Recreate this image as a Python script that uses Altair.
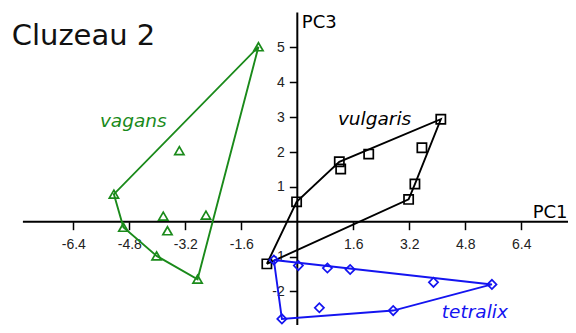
import altair as alt
import pandas as pd

# ---- data ----
species = ["vagans", "vulgaris", "tetralix"]

vagans_pc1 = [-1.11, -5.24, -4.97, -4.02, -2.85, -3.37, -3.83, -3.71, -2.61]
vagans_pc3 = [5.02, 0.79, -0.16, -0.98, -1.65, 2.04, 0.16, -0.26, 0.19]
vagans_hull = [0, 1, 2, 3, 4, 0]

vulgaris_pc1 = [4.10, 3.56, 3.36, 3.18, -0.87, -0.02, 1.20, 1.24, 2.04]
vulgaris_pc3 = [2.94, 2.12, 1.08, 0.64, -1.21, 0.57, 1.72, 1.51, 1.94]
vulgaris_hull = [4, 5, 6, 0, 2, 3, 4]

tetralix_pc1 = [-0.67, 0.03, 0.86, 1.51, 3.89, 5.56, 2.74, 0.63, -0.44]
tetralix_pc3 = [-1.10, -1.26, -1.33, -1.37, -1.74, -1.80, -2.55, -2.47, -2.79]
tetralix_hull = [0, 5, 6, 8, 0]

x_ticks = [-6.4, -4.8, -3.2, -1.6, 1.6, 3.2, 4.8, 6.4]
y_ticks = [-3, -2, -1, 1, 2, 3, 4, 5]
axis_pc1_extent = [-7.84, 7.84]
axis_pc3_extent = [-3, 6]

# annotation anchors (data units)
label_pc1 = [-5.64, 1.16, 4.13]
label_pc3 = [2.73, 2.77, -2.77]

colors = ["#1a8a1a", "#000000", "#1414f0"]
shapes = ["triangle-up", "square", "diamond"]

# ---- tables ----
series = {
    "vagans": (vagans_pc1, vagans_pc3, vagans_hull),
    "vulgaris": (vulgaris_pc1, vulgaris_pc3, vulgaris_hull),
    "tetralix": (tetralix_pc1, tetralix_pc3, tetralix_hull),
}
pts_rows, hull_rows = [], []
for sp, (xs_, ys_, hull) in series.items():
    for a, b in zip(xs_, ys_):
        pts_rows.append({"species": sp, "pc1": a, "pc3": b})
    for k, idx in enumerate(hull):
        hull_rows.append({"species": sp, "pc1": xs_[idx], "pc3": ys_[idx], "ord": k})
pts = pd.DataFrame(pts_rows)
hulls = pd.DataFrame(hull_rows)
labels = pd.DataFrame({"species": species, "pc1": label_pc1, "pc3": label_pc3})
xline = pd.DataFrame({"pc1": [axis_pc1_extent[0]], "pc1b": [axis_pc1_extent[1]], "pc3": [0]})
yline = pd.DataFrame({"pc1": [0], "pc3": [axis_pc3_extent[0]], "pc3b": [axis_pc3_extent[1]]})

# ---- layout ----
W, H = 560, 317
xdom = [-8.266, 7.734]
ydom = [-2.964, 6.132]
x0_px = W * (0 - xdom[0]) / (xdom[1] - xdom[0])
y0_px = H * (ydom[1] - 0) / (ydom[1] - ydom[0])

xs = alt.Scale(domain=xdom, nice=False, zero=False)
ys = alt.Scale(domain=ydom, nice=False, zero=False)
col = alt.Color("species:N", scale=alt.Scale(domain=species, range=colors), legend=None)
shp = alt.Shape("species:N", scale=alt.Scale(domain=species, range=shapes), legend=None)

common_axis = dict(
    domain=False, grid=False, ticks=True, tickSize=8, tickWidth=1.5, tickColor="black",
    labelFont="Liberation Sans", labelFontSize=14, labelColor="#222222",
    labelOverlap=False, labelFlush=False, labelBound=False,
    titleFont="DejaVu Sans", titleFontSize=18, titleFontWeight="normal", titleColor="black",
    titleAngle=0, titleBaseline="alphabetic", zindex=0,
)
x_axis = alt.Axis(
    values=x_ticks, offset=-(H - y0_px), labelPadding=8,
    labelExpr="datum.value < 0 ? '-' + format(-datum.value, '.1f') : format(datum.value, '.1f')",
    title="PC1", titleX=559, titleY=-4.7, titleAlign="right", **common_axis,
)
y_axis = alt.Axis(
    values=y_ticks, offset=-x0_px, labelPadding=5,
    labelExpr="datum.value < 0 ? '-' + format(-datum.value, 'd') : format(datum.value, 'd')",
    title="PC3", titleX=4, titleY=19.3, titleAlign="left", **common_axis,
)

X = lambda f: alt.X(f, scale=xs, axis=x_axis)
Y = lambda f: alt.Y(f, scale=ys, axis=y_axis)

xrule = alt.Chart(xline).mark_rule(color="black", strokeWidth=2).encode(
    x=X("pc1:Q"), x2="pc1b:Q", y=Y("pc3:Q")
)
yrule = alt.Chart(yline).mark_rule(color="black", strokeWidth=2).encode(
    x=X("pc1:Q"), y=Y("pc3:Q"), y2="pc3b:Q"
)

hull_layer = alt.Chart(hulls).mark_line(strokeWidth=1.9).encode(
    x=X("pc1:Q"), y=Y("pc3:Q"), color=col, detail="species:N", order="ord:Q",
)

point_layer = alt.Chart(pts).mark_point(filled=False, strokeWidth=1.7, size=85, opacity=1).encode(
    x=X("pc1:Q"), y=Y("pc3:Q"), color=col, shape=shp,
)

label_layer = alt.Chart(labels).mark_text(
    font="DejaVu Sans", fontSize=18.5, fontStyle="italic", align="left", baseline="alphabetic"
).encode(
    x=X("pc1:Q"), y=Y("pc3:Q"), text="species:N", color=col,
)

title_layer = alt.Chart(pd.DataFrame({"t": ["Cluzeau 2"]})).mark_text(
    font="DejaVu Sans", fontSize=29, align="left", baseline="alphabetic", color="#111111"
).encode(x=alt.value(3.7), y=alt.value(37), text="t:N")

chart = alt.layer(
    xrule, yrule, hull_layer, point_layer, label_layer, title_layer
).properties(
    width=W, height=H, autosize=alt.AutoSizeParams(type="none"), padding=0, background="white"
).configure_view(stroke=None)

chart.save("out.html", embed_options={"renderer": "svg", "actions": False})
